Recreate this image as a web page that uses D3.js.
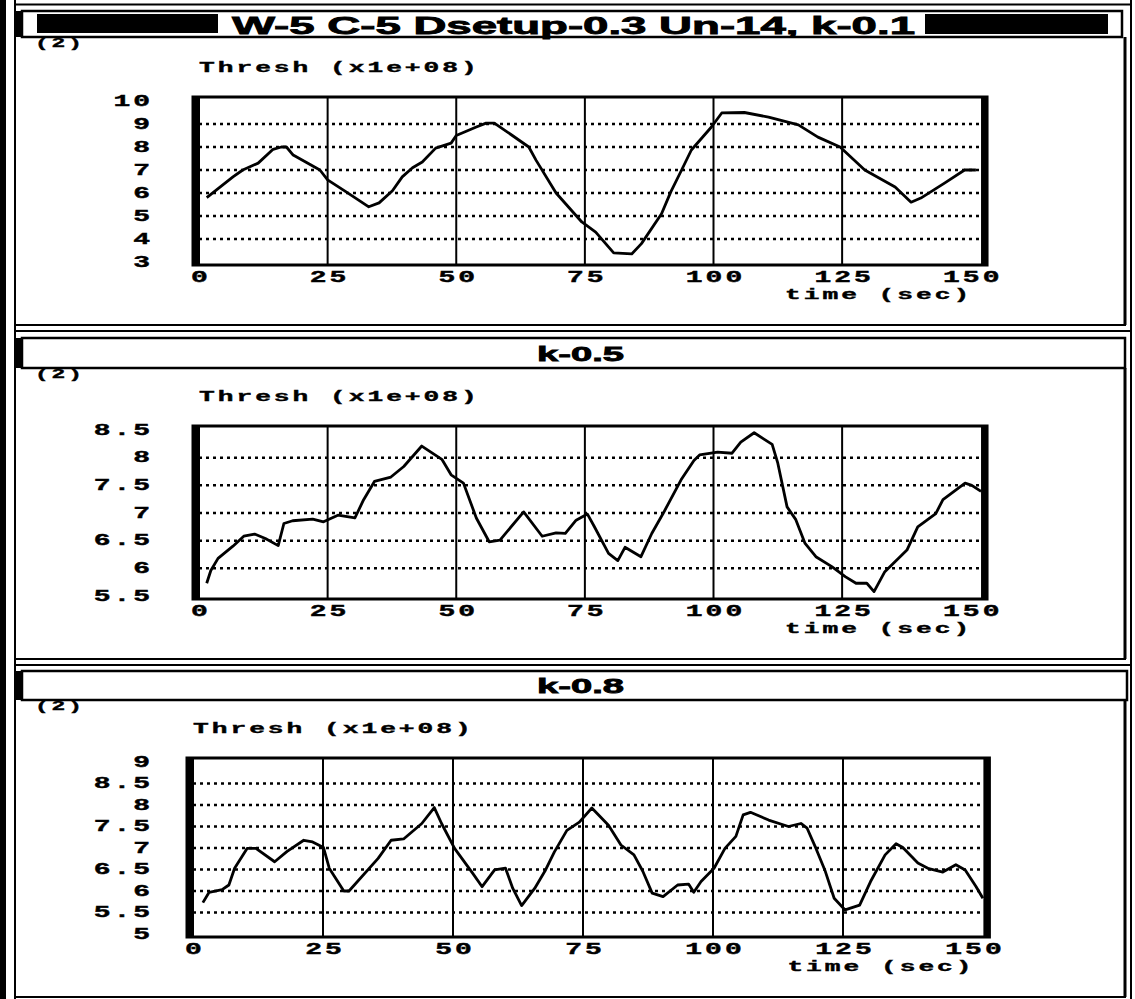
<!DOCTYPE html>
<html>
<head>
<meta charset="utf-8">
<script src="https://cdn.jsdelivr.net/npm/d3@7"></script>
<style>
  body { margin: 0; background: #fff; }
  svg { display: block; }
</style>
</head>
<body>
<div id="chart"></div>
<script>
// values (x1e+08) against time in seconds
const time1 = [1.5, 6.6, 8.5, 11.5, 14.4, 16, 17, 18.3, 23.5, 25, 28.6, 33, 35, 37.6, 39.5,
  41.5, 43.4, 46, 49, 50, 53.9, 55.8, 57.4, 60.9, 64.1, 65.5, 69.4, 74.4, 77.1, 80.6,
  84.1, 86, 89.9, 91.7, 93.8, 95.7, 99.6, 101.6, 106, 110.7, 116.5, 120.3, 124.6, 129.4, 135.3,
  138.4, 140.3, 144.9, 148.8, 151];
const thresh1 = [5.8, 6.7, 7.0, 7.3, 7.9, 8.0, 8.0, 7.65, 7.0, 6.57, 6.05, 5.4, 5.57, 6.1, 6.7,
  7.1, 7.35, 7.95, 8.17, 8.5, 8.87, 9.04, 9.04, 8.5, 8.0, 7.43, 6.0, 4.74, 4.3, 3.4,
  3.35, 3.8, 5.1, 6.05, 7.0, 7.87, 8.87, 9.48, 9.5, 9.3, 8.96, 8.43, 8.0, 7.0, 6.26,
  5.6, 5.78, 6.43, 7.0, 7.0];

const time2 = [1.5, 2.3, 3.7, 6.6, 8.7, 10.8, 12.9, 15.4, 16.5, 18.2, 22.1, 24.2, 27, 30.3, 32,
  34.1, 37.3, 39.8, 43.3, 47.2, 49, 51.4, 53.9, 56.4, 58.5, 63.1, 66.7, 69.4, 71.2, 73.3,
  75.5, 76.8, 79.6, 81.4, 82.8, 85.9, 88, 90.2, 93.7, 96.2, 97.3, 100.8, 103.6, 105.3, 107.9,
  111.4, 112.5, 114.3, 116, 117.8, 119.9, 123, 125.6, 127.7, 129.8, 131.2, 133.3, 137.6, 139.7, 143.2,
  144.6, 148.9, 150.2, 152];
const thresh2 = [5.73, 5.96, 6.18, 6.4, 6.58, 6.62, 6.54, 6.41, 6.81, 6.86, 6.89, 6.84, 6.96, 6.91, 7.24,
  7.57, 7.65, 7.84, 8.21, 7.97, 7.69, 7.54, 6.91, 6.48, 6.51, 7.02, 6.58, 6.64, 6.63, 6.87,
  6.98, 6.76, 6.27, 6.14, 6.38, 6.21, 6.63, 6.99, 7.6, 7.95, 8.05, 8.1, 8.08, 8.28, 8.45,
  8.24, 7.9, 7.11, 6.88, 6.45, 6.21, 6.03, 5.85, 5.73, 5.73, 5.58, 5.94, 6.33, 6.75, 6.99,
  7.24, 7.54, 7.5, 7.39];

const time3 = [1.9, 3.1, 5.6, 6.9, 8, 10.4, 12.1, 15.7, 18.1, 21.3, 23, 25.1, 26.2, 29, 30,
  35.6, 38.1, 40.5, 44, 46.4, 47.8, 50.3, 53.8, 55.6, 58, 60.1, 61.5, 63.2, 65.7, 67.8,
  69.5, 71.9, 74.3, 76.7, 79.9, 82.3, 84.8, 86.5, 88.3, 90.4, 93.2, 95.3, 96.3, 97.7, 100.2,
  102.3, 104.4, 105.8, 107.2, 110.7, 114.5, 116.9, 118.1, 119.8, 121.5, 123.3, 125.4, 128.2, 130.3, 133.1,
  135.2, 136.5, 139.4, 141.5, 144.2, 146.7, 148.5, 150.6, 151.9];
const thresh3 = [5.73, 5.97, 6.03, 6.14, 6.53, 6.99, 6.99, 6.68, 6.92, 7.18, 7.14, 7.01, 6.53, 6.0, 6.0,
  6.76, 7.18, 7.21, 7.57, 7.94, 7.57, 6.99, 6.41, 6.1, 6.49, 6.53, 6.06, 5.66, 6.06, 6.49,
  6.91, 7.41, 7.6, 7.93, 7.53, 7.07, 6.84, 6.46, 5.95, 5.87, 6.14, 6.16, 5.97, 6.22, 6.53,
  6.99, 7.27, 7.77, 7.83, 7.65, 7.5, 7.57, 7.46, 6.99, 6.49, 5.83, 5.56, 5.67, 6.22, 6.84,
  7.1, 7.01, 6.65, 6.52, 6.44, 6.61, 6.49, 6.1, 5.83];

const xTicks = [0, 25, 50, 75, 100, 125, 150];
const yTicks1 = [3, 4, 5, 6, 7, 8, 9, 10];
const yTicks2 = [5.5, 6, 6.5, 7, 7.5, 8, 8.5];
const yTicks3 = [5, 5.5, 6, 6.5, 7, 7.5, 8, 8.5, 9];
const titles = ["W-5 C-5 Dsetup-0.3 Un-14, k-0.1", "k-0.5", "k-0.8"];

const W = 1135, H = 999;
const svg = d3.select("#chart").append("svg").attr("width", W).attr("height", H);

// stretched, widely spaced terminal-style font
const SX = 1.75, LS = 1.7, FS = 16;
function monoText(g, str, x, y, size) {
    g.append("text")
        .attr("transform", `translate(${x},${y}) scale(${SX},1)`)
        .attr("font-family", "Liberation Mono")
        .attr("font-weight", "bold")
        .attr("font-size", size)
        .attr("letter-spacing", LS)
        .attr("stroke", "#000").attr("stroke-width", 0.4)
        .attr("dominant-baseline", "central")
        .text(str);
}

// window layout for each panel
const layout = [
    {barTop: 11, barBottom: 37, barRight: 1122, winBottom: 325, x0: 199, pps: 5.145,
     yDom: [3, 10], yRange: [262, 101], yTicks: yTicks1, t: time1, v: thresh1, titleSize: 24},
    {barTop: 338, barBottom: 368, barRight: 1125, winBottom: 659, x0: 199, pps: 5.145,
     yDom: [5.5, 8.5], yRange: [596, 430], yTicks: yTicks2, t: time2, v: thresh2, titleSize: 21},
    {barTop: 671, barBottom: 700, barRight: 1127, winBottom: 997, x0: 193, pps: 5.2,
     yDom: [5, 9], yRange: [934, 762], yTicks: yTicks3, t: time3, v: thresh3, titleSize: 21}
];

// outer window chrome
svg.append("rect").attr("x", 0).attr("y", 0).attr("width", 6).attr("height", H).attr("fill", "#000");
svg.append("line").attr("x1", 15).attr("x2", 15).attr("y1", 0).attr("y2", H)
    .attr("stroke", "#000").attr("stroke-width", 2);
svg.append("line").attr("x1", 1131).attr("x2", 1131).attr("y1", 0).attr("y2", H)
    .attr("stroke", "#000").attr("stroke-width", 2);
svg.append("line").attr("x1", 14).attr("x2", 1131).attr("y1", 4.5).attr("y2", 4.5)
    .attr("stroke", "#000").attr("stroke-width", 2);

layout.forEach((p, i) => {
    const g = svg.append("g");

    // window borders
    g.append("line").attr("x1", 1125).attr("x2", 1125).attr("y1", p.barBottom).attr("y2", p.winBottom)
        .attr("stroke", "#000").attr("stroke-width", 3);
    g.append("line").attr("x1", 15).attr("x2", 1126).attr("y1", p.winBottom).attr("y2", p.winBottom)
        .attr("stroke", "#000").attr("stroke-width", 2);
    if (i < 2) {
        g.append("line").attr("x1", 15).attr("x2", 1131).attr("y1", p.winBottom + 6).attr("y2", p.winBottom + 6)
            .attr("stroke", "#000").attr("stroke-width", 2);
    }

    // title bar
    g.append("rect").attr("x", 15).attr("y", p.barTop).attr("width", 7)
        .attr("height", p.barBottom - p.barTop).attr("fill", "#000");
    g.append("rect").attr("x", 22).attr("y", p.barTop).attr("width", p.barRight - 22)
        .attr("height", p.barBottom - p.barTop)
        .attr("fill", "#fff").attr("stroke", "#000").attr("stroke-width", 2.5);
    const mid = (p.barTop + p.barBottom) / 2;
    if (i === 0) {
        g.append("rect").attr("x", 37).attr("y", 14).attr("width", 181).attr("height", 19).attr("fill", "#000");
        g.append("rect").attr("x", 925).attr("y", 14).attr("width", 183).attr("height", 20).attr("fill", "#000");
        g.append("text").attr("x", 232).attr("y", mid + 1)
            .attr("font-family", "Liberation Sans").attr("font-weight", "bold")
            .attr("font-size", p.titleSize).attr("dominant-baseline", "central")
            .attr("stroke", "#000").attr("stroke-width", 0.8)
            .attr("textLength", 683).attr("lengthAdjust", "spacingAndGlyphs")
            .text(titles[i]);
    } else {
        g.append("text").attr("x", 537).attr("y", mid)
            .attr("font-family", "Liberation Sans").attr("font-weight", "bold")
            .attr("font-size", p.titleSize).attr("dominant-baseline", "central")
            .attr("stroke", "#000").attr("stroke-width", 0.8)
            .attr("textLength", 87).attr("lengthAdjust", "spacingAndGlyphs")
            .text(titles[i]);
    }

    // scales
    const x = d3.scaleLinear().domain([0, 152]).range([p.x0, p.x0 + 152 * p.pps]);
    const y = d3.scaleLinear().domain(p.yDom).range(p.yRange);
    const left = p.x0 - 6, right = x(152) + 6;
    const top = y(p.yDom[1]) - 4, bottom = y(p.yDom[0]) + 3;

    monoText(g, "(2)", 35, p.barBottom + 7, 13);
    monoText(g, "Thresh (x1e+08)", p.x0, top - 29, 15);
    monoText(g, "time (sec)", right - 202, bottom + 30, 15);

    // grid: dotted horizontals, solid verticals
    g.append("g").selectAll("line")
        .data(p.yTicks.slice(1, -1))
        .join("line")
        .attr("x1", left + 6).attr("x2", right - 6)
        .attr("y1", d => y(d)).attr("y2", d => y(d))
        .attr("stroke", "#000").attr("stroke-width", 2.5)
        .attr("stroke-dasharray", "3,4");
    g.append("g").selectAll("line")
        .data(xTicks.slice(1, -1))
        .join("line")
        .attr("x1", d => x(d)).attr("x2", d => x(d))
        .attr("y1", top).attr("y2", bottom)
        .attr("stroke", "#000").attr("stroke-width", 2);

    // frame with thick sides
    g.append("rect").attr("x", left).attr("y", top).attr("width", right - left).attr("height", bottom - top)
        .attr("fill", "none").attr("stroke", "#000").attr("stroke-width", 3);
    g.append("rect").attr("x", left).attr("y", top).attr("width", 7).attr("height", bottom - top).attr("fill", "#000");
    g.append("rect").attr("x", right - 6).attr("y", top).attr("width", 6).attr("height", bottom - top).attr("fill", "#000");

    // trace
    const pts = p.t.map((t, k) => [t, p.v[k]]);
    g.append("path")
        .datum(pts)
        .attr("fill", "none")
        .attr("stroke", "#000")
        .attr("stroke-width", 2.8)
        .attr("stroke-linejoin", "round")
        .attr("d", d3.line().x(d => x(d[0])).y(d => y(d[1])));

    // axes: labels only
    const yAxis = g.append("g")
        .attr("transform", `translate(150,0)`)
        .call(d3.axisLeft(y).tickValues(p.yTicks).tickSize(0).tickPadding(0).tickFormat(d3.format("")));
    const xAxis = g.append("g")
        .attr("transform", `translate(0,${bottom + 13})`)
        .call(d3.axisBottom(x).tickValues(xTicks).tickSize(0).tickPadding(0));
    [yAxis, xAxis].forEach(ax => {
        ax.select(".domain").remove();
        ax.attr("font-family", "Liberation Mono").attr("font-weight", "bold").attr("font-size", FS);
        ax.selectAll("text")
            .attr("fill", "#000")
            .attr("stroke", "#000").attr("stroke-width", 0.4)
            .attr("letter-spacing", LS)
            .attr("dy", null).attr("y", 0)
            .attr("dominant-baseline", "central");
    });
    yAxis.selectAll("text").attr("x", LS).attr("transform", `scale(${SX},1)`);
    xAxis.selectAll("text").attr("x", LS / 2).attr("transform", `scale(${SX},1)`);
});
</script>
</body>
</html>
